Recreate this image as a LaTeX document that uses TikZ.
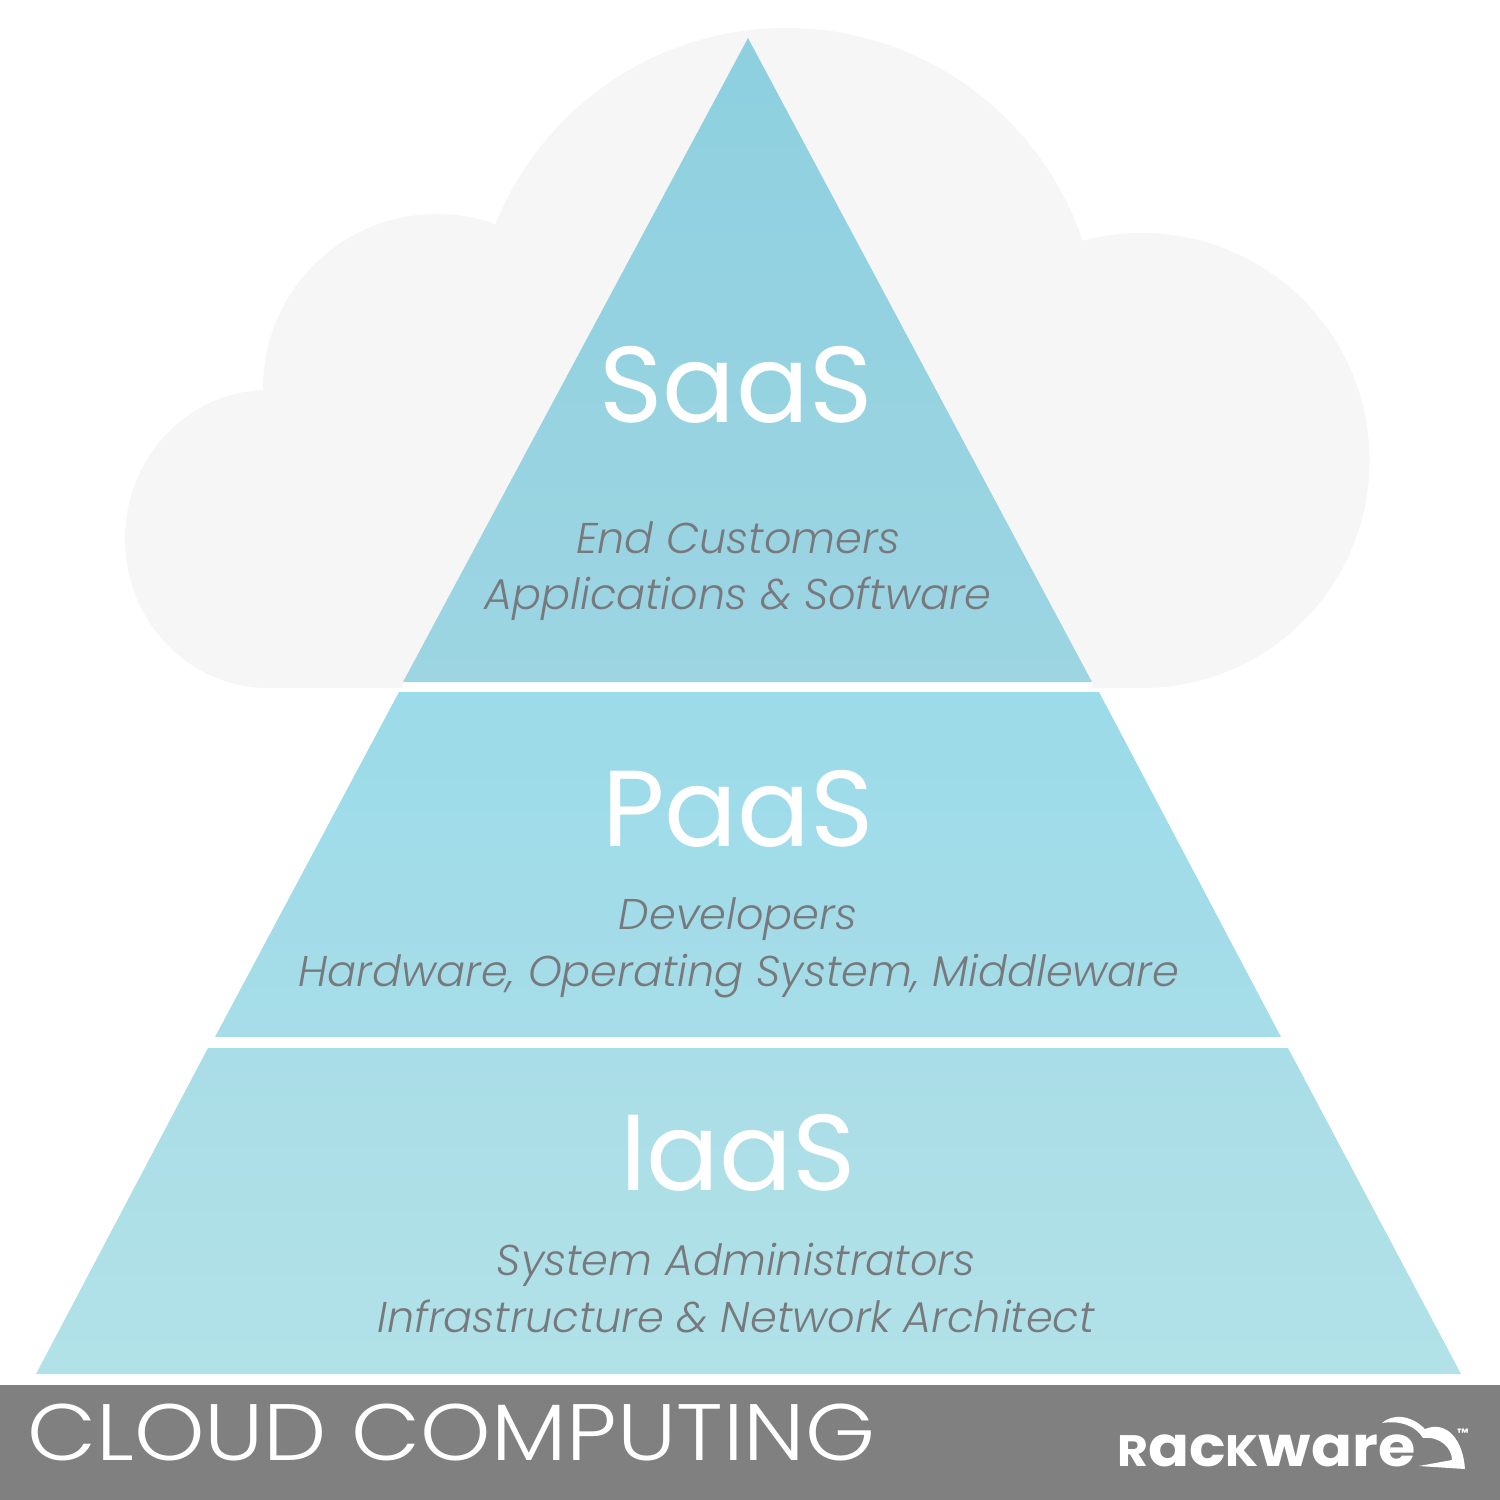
\documentclass[tikz,border=0pt]{standalone}
\usepackage{fontspec}
\setmainfont{Poppins}[UprightFont={* Light},ItalicFont={* Light Italic}]
\newfontfamily\titlefont{Poppins}
\newfontfamily\thinfont{Poppins Light}[FakeStretch=1.12]
\newfontfamily\logofont{Poppins Bold}[FakeStretch=1.08]
\usepackage{tikz}
\usetikzlibrary{positioning}
\definecolor{CloudGray}{HTML}{F6F6F6}
\definecolor{FooterGray}{HTML}{808080}
\definecolor{CaptionGray}{HTML}{77797C}
\definecolor{SaasTop}{HTML}{8ED0E0}
\definecolor{SaasBottom}{HTML}{9DD5E2}
\definecolor{PaasTop}{HTML}{9CDBE9}
\definecolor{PaasBottom}{HTML}{A6DDE8}
\definecolor{IaasTop}{HTML}{A9DDE7}
\definecolor{IaasBottom}{HTML}{B2E2E8}
\tikzset{
  tiertitle/.style={anchor=base, inner sep=0pt, text=white, font=\fontsize{108}{108}\titlefont},
  tiercaption/.style={anchor=base, inner sep=0pt, text=CaptionGray, font=\fontsize{43}{43}\selectfont\itshape},
  cloudpart/.style={fill=CloudGray},
  tier/.style={shading=axis, shading angle=0}
}
\begin{document}
\begin{tikzpicture}[x=1pt, y=-1pt]
  \useasboundingbox (0,0) rectangle (1500,1500);
  \fill[white] (0,0) rectangle (1500,1500);

  % Cloud
  \fill[cloudpart] (268,539) circle[x radius=143, y radius=149];
  \fill[cloudpart] (437,388) circle[radius=174];
  \fill[cloudpart] (786,341) circle[radius=313];
  \fill[cloudpart] (1142,460.5) circle[radius=227.5];
  \fill[cloudpart] (268,392) rectangle (1142,688);

  % Pyramid
  \fill[white] (403,682) rectangle (1092,692);
  \path[tier, top color=SaasTop, bottom color=SaasBottom] (748,38) -- (1092,682) -- (403,682) -- cycle;
  \path[tier, top color=PaasTop, bottom color=PaasBottom] (399,692) -- (1099,692) -- (1281,1037) -- (215,1037) -- cycle;
  \path[tier, top color=IaasTop, bottom color=IaasBottom] (208,1048) -- (1288,1048) -- (1461,1374) -- (36,1374) -- cycle;

  % Labels
  \node[tiertitle] (saas) at (736,422) {SaaS};
  \node[tiercaption] (saasusers) at (738,553) {End Customers};
  \node[tiercaption] (saasitems) at (738,609) {Applications \& Software};

  \node[tiertitle] (paas) at (738,846) {PaaS};
  \node[tiercaption] (paasusers) at (738,929) {Developers};
  \node[tiercaption] (paasitems) at (739,986) {Hardware, Operating System, Middleware};

  \node[tiertitle] (iaas) at (738,1190) {IaaS};
  \node[tiercaption] (iaasusers) at (736,1275) {System Administrators};
  \node[tiercaption] (iaasitems) at (736,1332) {Infrastructure \& Network Architect};

  % Footer
  \fill[FooterGray] (0,1385) rectangle (1500,1500);
  \node[anchor=base west, inner sep=0pt, text=white, font=\fontsize{80}{80}\thinfont] (footer) at (27,1460) {CLOUD COMPUTING};

  % Logo
  \node[anchor=base west, inner sep=0pt, text=white, font=\logofont] (logo) at (1117,1466) {\fontsize{44}{44}\selectfont R\fontsize{56}{56}\selectfont ac\fontsize{44}{44}\selectfont K\fontsize{56}{56}\selectfont ware};
  \fill[white] (1382,1423) .. controls (1392,1414) and (1410,1414) .. (1425,1429)
    .. controls (1447,1420) and (1463,1440) .. (1465,1469)
    -- (1419,1466) -- (1452,1460)
    .. controls (1452,1448) and (1440,1436) .. (1423,1438)
    .. controls (1416,1426) and (1400,1420) .. cycle;
  \node[anchor=west, inner sep=0pt, text=white, font=\fontsize{12}{12}\logofont] (trademark) at (1457,1433) {™};
\end{tikzpicture}
\end{document}
